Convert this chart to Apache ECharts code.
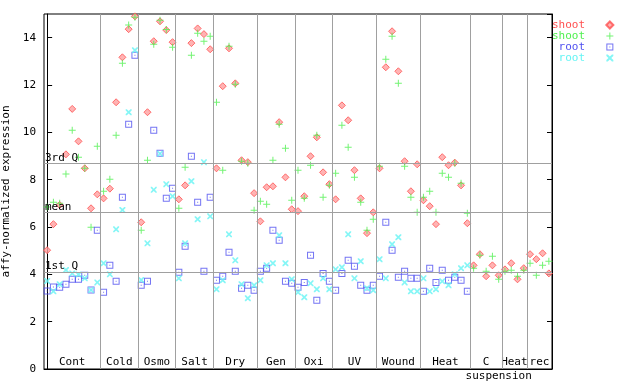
<!DOCTYPE html>
<html><head><meta charset="utf-8">
<script src="https://cdn.jsdelivr.net/npm/echarts@6/dist/echarts.min.js"></script>
<style>html,body{margin:0;padding:0;background:#fff}#c{width:640px;height:384px}</style>
</head><body><div id="c"></div>
<script>
// ---- data ----
const groupNames = ['Cont','Cold','Osmo','Salt','Dry','Gen','Oxi','UV','Wound','Heat','C','Heat','rec'];
const groupSizes = [9,6,6,6,7,6,6,7,7,8,5,4,4];
const subLabel = 'suspension';
const subLabelSpan = [10, 12];

const refNames = ['3rd Q','mean','1st Q'];
const refValues = [8.69, 6.62, 4.10];

const yTickValues = [0,2,4,6,8,10,12,14];

const seriesNames = ['shoot','shoot','root','root'];

const shootA = [
  5.02,6.12,6.93,9.07,10.99,9.62,8.48,6.79,7.38,
  7.21,7.62,11.27,13.17,14.36,14.90,
  6.20,10.85,13.85,14.69,14.32,13.81,
  7.17,7.76,13.77,14.39,14.15,13.51,
  8.48,11.95,13.55,12.07,8.82,8.74,7.43,
  6.24,7.68,7.72,10.43,8.10,6.75,
  6.67,7.30,8.99,9.79,8.31,7.81,
  7.17,11.14,10.51,8.40,7.21,5.74,6.62,
  8.48,12.75,14.27,12.58,8.78,7.51,8.65,
  7.13,6.88,6.12,8.95,8.61,8.72,7.76,6.16,
  4.38,4.85,3.92,4.38,3.96,
  4.21,4.47,3.79,4.26,
  4.85,4.64,4.89,4.04
];
const shootB = [
  6.85,7.05,7.00,8.24,10.09,8.95,8.48,5.99,9.41,
  7.51,8.02,9.88,12.92,14.54,14.86,
  5.86,8.82,13.72,14.74,14.34,13.60,
  6.79,8.52,13.26,14.19,13.85,14.06,
  11.27,8.40,13.64,12.03,8.78,8.69,6.71,
  7.09,6.96,8.82,10.34,9.33,7.13,
  8.40,7.21,8.61,9.88,7.26,7.76,
  8.27,10.30,9.37,8.10,7.05,5.86,6.33,
  8.57,13.09,14.06,12.07,8.57,7.26,6.62,
  7.26,7.51,6.62,8.27,8.10,8.69,7.85,6.58,
  4.26,4.81,4.13,4.76,3.79,
  4.13,4.17,3.92,4.17,
  4.47,3.96,4.38,4.55
];
const rootA = [
  3.30,3.47,3.45,3.58,3.79,3.79,3.96,3.34,5.86,
  3.24,4.38,3.71,7.26,10.34,13.26,
  3.54,3.71,10.09,9.12,7.21,7.64,
  4.09,5.19,8.99,7.05,4.13,7.26,
  3.75,3.92,4.93,4.13,3.41,3.54,3.33,
  4.13,4.26,5.86,5.44,3.71,3.62,
  3.45,3.66,4.81,2.90,4.04,3.71,
  3.33,4.04,4.59,4.34,3.54,3.33,3.54,
  3.92,6.20,5.02,3.88,4.13,3.83,3.83,
  3.28,4.26,3.66,4.17,3.75,3.88,3.75,3.28,
  null,null,null,null,null,
  null,null,null,null,
  null,null,null,null
];
const rootB = [
  3.72,3.28,3.58,4.18,4.04,3.99,3.83,3.34,3.66,
  4.47,4.00,5.90,6.72,10.85,13.47,
  3.76,5.31,7.57,9.10,7.81,7.30,
  3.83,5.31,7.93,6.33,8.74,6.45,
  3.37,3.75,5.69,4.59,3.58,2.99,3.54,
  3.75,4.38,4.47,5.65,4.47,3.79,
  3.24,3.03,3.62,3.37,3.83,3.37,
  4.21,4.30,5.69,3.83,4.55,3.41,3.33,
  4.64,3.83,5.27,5.57,3.66,3.28,3.28,
  3.83,3.28,3.37,3.71,3.54,4.00,4.26,4.38,
  null,null,null,null,null,
  null,null,null,null,
  null,null,null,null
];

// ---- build ----
const FONT = 'DejaVu Sans Mono';
const total = groupSizes.reduce((a,b)=>a+b,0);
const starts = [];
let acc = 0;
groupSizes.forEach(n => { starts.push(acc - 0.5); acc += n; });
const ends = starts.map((s,i)=> s + groupSizes[i]);
const boundaries = ends.slice(0, -1);

function pts(arr){ const out=[]; arr.forEach((v,i)=>{ if(v!=null) out.push([i,v]); }); return out; }

const colors = ['#ff5050','#50f050','#5050f0','#66f4f4'];
const symbols = [
  'diamond',
  'path://M3,0H4V7H3Z M0,3H7V4H0Z',
  'path://M0,0H7V7H0Z M1,1V6H6V1Z M3,3H4V4H3Z',
  'path://M0,0H1.2L3,1.8L4.8,0H6V1.2L4.2,3L6,4.8V6H4.8L3,4.2L1.2,6H0V4.8L1.8,3L0,1.2Z'
];
const sizes = [7,7,7,6];
const ids = ['sA','sB','rA','rB'];
const datas = [shootA, shootB, rootA, rootB];

const markAreaData = groupNames.map((g,i)=>[
  {xAxis: starts[i], name: g}, {xAxis: ends[i]}
]);
markAreaData.push([
  {xAxis: starts[subLabelSpan[0]], name: subLabel,
   label:{position:'bottom', distance:2}},
  {xAxis: starts[subLabelSpan[1]]}
]);

const markLineData = boundaries.map(b => ({xAxis: b, label:{show:false}}));
refValues.forEach((v,i)=> markLineData.push({
  yAxis: v, name: refNames[i],
  label:{show:true, formatter:'{b}', position:'insideStartTop', distance:[1,0],
         color:'#000', fontFamily:FONT, fontSize:11}
}));

const series = [{
  type:'scatter', name:'_ref', data:[], z:1, silent:true,
  markLine:{ silent:true, symbol:['none','none'], animation:false,
    lineStyle:{color:'#a0a0a0', width:1, type:'solid'},
    emphasis:{disabled:true}, data: markLineData },
  markArea:{ silent:true, animation:false,
    itemStyle:{color:'rgba(0,0,0,0)'},
    label:{show:true, position:'insideBottom', distance:1, color:'#000',
           fontFamily:FONT, fontSize:11, formatter:'{b}'},
    data: markAreaData }
}];
datas.forEach((d,k)=>{
  series.push({
    type:'scatter', name: ids[k], data: pts(d), z:3,
    symbol: symbols[k], symbolSize: sizes[k],
    itemStyle: k===0 ? {color:'#ffa0a0', borderColor:colors[0], borderWidth:1}
                     : {color: colors[k]},
    animation:false
  });
});

const option = {
  backgroundColor:'#fff',
  animation:false,
  grid:{left:44, right:88, top:14, bottom:15, show:true, borderColor:'#000', borderWidth:1,
        containLabel:false, outerBoundsMode:'none'},
  xAxis:[
    {type:'value', min:-0.5, max: total-0.5, axisLabel:{show:false}, axisTick:{show:false},
     splitLine:{show:false}, axisLine:{lineStyle:{color:'#000', width:1}}},
  ],
  yAxis:[
    {type:'value', min:0, max:15, interval:2, splitLine:{show:false},
     axisLine:{show:true, lineStyle:{color:'#000'}},
     axisTick:{show:true, inside:true, length:5, lineStyle:{color:'#000'}},
     axisLabel:{margin:8, color:'#000', fontFamily:FONT, fontSize:11, showMaxLabel:false,
       formatter: v => yTickValues.includes(v) ? String(v) : ''},
     name:'affy-normalized expression', nameLocation:'middle', nameRotate:90, nameGap:27,
     nameTextStyle:{color:'#000', fontFamily:FONT, fontSize:11}},
    {type:'value', min:0, max:15, interval:2, position:'right', splitLine:{show:false},
     axisLine:{show:true, lineStyle:{color:'#000'}},
     axisTick:{show:true, inside:true, length:5, lineStyle:{color:'#000'}},
     axisLabel:{show:false}}
  ],
  legend:{
    orient:'vertical', left:552, top:19.5, padding:0, align:'right', itemWidth:7, itemHeight:7, itemGap:0,
    textStyle:{fontFamily:FONT, fontSize:11, padding:[0,3,0,0]},
    formatter: n => {
      const k = ids.indexOf(n);
      const s = seriesNames[k];
      return (s.length < 5 ? ' ' : '') + s + '  ';
    },
    data: ids.map((id,k)=>({name:id, textStyle:{color:colors[k]}})),
    selectedMode:false
  },
  series: series
};
const chart = echarts.init(document.getElementById('c'), null, {renderer:'canvas'});
chart.setOption(option);
</script></body></html>
